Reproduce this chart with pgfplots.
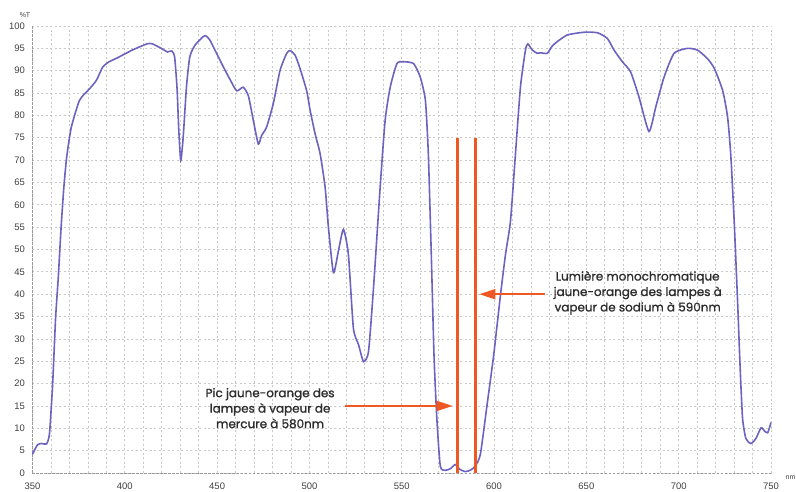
\documentclass[border=0pt]{standalone}
\usepackage{pgfplots}
\pgfplotsset{compat=1.18}
\usepackage{fontspec}
\setmainfont{Liberation Sans}
\newfontfamily\annfont{Poppins}[FakeBold=1.2]
\usetikzlibrary{arrows.meta}

\definecolor{curve}{RGB}{108,98,192}
\definecolor{lampe}{RGB}{240,88,35}
\definecolor{gridc}{RGB}{200,200,200}
\definecolor{txt}{RGB}{45,45,45}

\begin{document}
\begin{tikzpicture}
\useasboundingbox (-32.5bp,-19bp) rectangle (763.5bp,473bp);
\begin{axis}[
    at={(0,0)}, anchor=south west,
    scale only axis,
    width=738.5bp, height=447bp,
    xmin=350, xmax=750, ymin=0, ymax=100,
    xtick={350,400,...,750},
    minor xtick={360,370,...,740},
    ytick={0,5,...,100},
    grid=both,
    major grid style={gridc, dash pattern=on 2bp off 2.5bp, line width=0.7bp},
    minor grid style={gridc, dash pattern=on 2bp off 2.5bp, line width=0.7bp},
    axis line style={draw=none},
    tick style={draw=none},
    /pgf/number format/assume math mode=true,
    every tick label/.append style={inner sep=0pt, font=\fontsize{9.5}{10}\selectfont, text=black!75},
    yticklabel style={xshift=-7.5bp},
    xticklabel style={yshift=-10bp},
    clip=false,
]
% axes en pointillés plus foncés
\draw[black!40, dash pattern=on 2.5bp off 1.5bp, line width=0.9bp] (rel axis cs:0,0) -- (rel axis cs:1,0);
\draw[black!40, dash pattern=on 2.5bp off 1.5bp, line width=0.9bp] (rel axis cs:0,0) -- (rel axis cs:0,1);
% spectre de transmission
\addplot[curve, line width=1.6bp, smooth, tension=0.35] coordinates {
(350,4.2)(352.7,6.3)(355,6.6)(357.6,6.5)(359.2,8.8)(360.9,19.8)(362.5,34.6)
(364,44)(365.5,55)(367,64)(368.5,70.6)(371,77.3)(375.5,83.4)(381,86)
(384.7,87.9)(388,90.8)(391.5,92)(395.6,92.8)(404,94.6)(412,96)(415,96)
(420.6,94.8)(423,94.2)(425.5,94.4)(427,93)(428.3,86)(429.2,77)(430.3,69.9)
(431.6,75)(433.4,86.4)(435.2,93.1)(438,95.7)(442.4,97.6)(443.9,97.8)
(446,96.9)(449.7,93.9)(453.3,90.9)(456.9,88.1)(460.6,85.5)(464.1,86.3)
(466.9,84.4)(469.6,78.9)(472.3,73.6)(474.1,75.5)(476.8,77.4)(480.4,82.6)
(484.1,90.1)(487.7,93.9)(489.5,94.5)(492.2,93.5)(494.9,90.5)(498.5,85.5)
(500.3,81.3)(503,76)(505.8,71.4)(508.5,63.9)(510.3,54.9)(513,44.8)
(515.7,49.7)(518.4,54.5)(521.1,48.9)(523.8,32.4)(526.6,28.7)(529.3,24.9)
(532,27.2)(534.7,41.4)(538.3,63.9)(541,78.9)(543.8,86.4)(547.4,91.6)
(551,92)(556.4,91.6)(560,88.6)(562.8,83.4)(564.4,71.4)(566,48.9)
(567.5,26)(569.1,11.5)(570.9,1.5)(573.6,0.6)(576.5,1)(579,1.9)(581.5,0.8)
(584.5,0.3)(587.5,0.7)(589.9,1.6)(592.6,4.2)(596.2,15.2)(599.8,26.4)
(603.5,39.9)(606.2,48.9)(608.9,56.4)(611.6,71.4)(614.3,86.4)(617,94.6)
(618.3,96)(620.7,94.6)(623.4,93.9)(625.2,94)(628.8,93.9)(631.5,95.5)
(634.2,96.5)(639.7,98)(648.7,98.6)(655.9,98.5)(661.4,97.2)(665,94.6)
(669.5,92)(674,89.7)(678.5,84.1)(683.9,76.4)(687.6,81.9)(692.1,88.6)
(697.5,93.9)(704.8,95)(710.2,94.6)(715.6,92.7)(719.3,90.5)(723.8,85.6)
(726.5,79.6)(728.3,70.6)(730.2,55)(731.9,38.4)(733.3,23.4)(734.6,12.2)
(736.4,7.7)(739.1,6.6)(741.8,7.7)(744.6,10.1)(746.5,9.4)(748.2,9)(750,11.3)
};
% raies des lampes
\addplot[lampe, line width=3.2bp] coordinates {(580,0)(580,75)};
\addplot[lampe, line width=3.2bp] coordinates {(590,0)(590,75)};

\draw[lampe, line width=1.6bp, -{Triangle[length=16bp,width=10bp]}]
    (axis cs:519.3,15) -- (axis cs:577.6,15);
\draw[lampe, line width=1.6bp, -{Triangle[length=16bp,width=10bp]}]
    (axis cs:627.6,40) -- (axis cs:592,40);

\node[align=center, text=txt, font=\annfont\fontsize{12}{15.5}\selectfont]
    at (axis cs:478.7,14.5) {Pic jaune-orange des\\lampes à vapeur de\\mercure à 580nm};
\node[align=center, text=txt, font=\annfont\fontsize{12}{15.5}\selectfont]
    at (axis cs:677.8,40.3) {Lumière monochromatique\\jaune-orange des lampes à\\vapeur de sodium à 590nm};
\end{axis}
\node[font=\fontsize{7}{8}\selectfont, text=black!75] at (-7.5bp,457.5bp) {\%T};
\node[font=\fontsize{7}{8}\selectfont, text=black!75, anchor=east, inner sep=0.5bp] at (763.5bp,-5bp) {nm};
\end{tikzpicture}
\end{document}
